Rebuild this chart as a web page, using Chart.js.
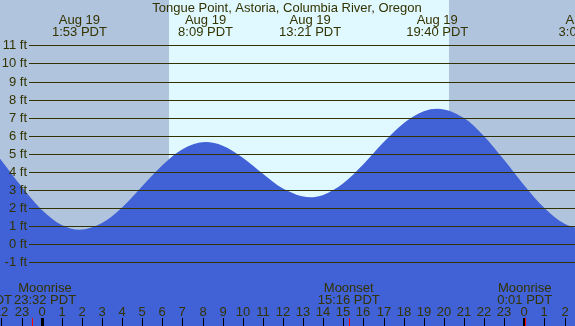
<!DOCTYPE html>
<html>
<head>
<meta charset="utf-8">
<script src="https://cdn.jsdelivr.net/npm/chart.js@4/dist/chart.umd.min.js"></script>
<style>
  html, body { margin: 0; padding: 0; background: #fff; }
  #tide { display: block; }
</style>
</head>
<body>
<canvas id="tide" width="575" height="326"></canvas>
<script>
// hours since midnight Aug 19 (negative = Aug 18, >24 = Aug 20)
const tideHours = [-3, -2, -1, 0, 1, 1.88, 3, 4, 5, 6, 7, 8.15, 9, 10, 11, 12, 13.35, 14, 15, 16, 17, 18, 19, 19.67, 21, 22, 23, 24, 25, 26, 27.07];
const tideFeet  = [5.95, 4.64, 3.19, 1.91, 1.06, 0.80, 1.17, 2.04, 3.21, 4.37, 5.26, 5.65, 5.45, 4.79, 3.90, 3.08, 2.60, 2.73, 3.38, 4.43, 5.64, 6.70, 7.36, 7.50, 6.98, 5.98, 4.66, 3.25, 2.00, 1.13, 0.80];

const extremeHours = [1.88, 8.15, 13.35, 19.67, 27.07];
const extremeDates = ['Aug 19', 'Aug 19', 'Aug 19', 'Aug 19', 'Aug 20'];
const extremeTimes = ['1:53 PDT', '8:09 PDT', '13:21 PDT', '19:40 PDT', '3:04 PDT'];

const moonHours  = [-0.47, 15.27, 24.02];
const moonEvents = ['Moonrise', 'Moonset', 'Moonrise'];
const moonTimes  = ['23:32 PDT', '15:16 PDT', '0:01 PDT'];

const sunrise = 6.33, sunset = 20.25;
const feetTicks = [-1, 0, 1, 2, 3, 4, 5, 6, 7, 8, 9, 10, 11];
const hourTicks = [-2, -1, 0, 1, 2, 3, 4, 5, 6, 7, 8, 9, 10, 11, 12, 13, 14, 15, 16, 17, 18, 19, 20, 21, 22, 23, 24, 25, 26];

const INK = '#333300';
const FONT = '13px "Liberation Sans", Arial, sans-serif';

const backdrop = {
    id: 'backdrop',
    beforeDatasetsDraw(chart) {
        const { ctx, chartArea: a, scales: { x } } = chart;
        ctx.save();
        ctx.fillStyle = '#b0c4de';
        ctx.fillRect(a.left, a.top, a.width, a.height);
        ctx.fillStyle = '#e0f8ff';
        const x1 = Math.round(x.getPixelForValue(sunrise));
        const x2 = Math.round(x.getPixelForValue(sunset));
        ctx.fillRect(x1, a.top, x2 - x1, a.height);
        ctx.restore();
    }
};

const overlay = {
    id: 'overlay',
    afterDatasetsDraw(chart) {
        const { ctx, chartArea: a, scales: { x, y } } = chart;
        ctx.save();
        ctx.font = FONT;
        ctx.fillStyle = INK;
        ctx.strokeStyle = INK;
        ctx.lineWidth = 1;
        ctx.textBaseline = 'middle';

        // feet grid + labels
        feetTicks.forEach(f => {
            const py = Math.round(y.getPixelForValue(f)) + 0.5;
            ctx.beginPath();
            ctx.moveTo(29, py);
            ctx.lineTo(a.right, py);
            ctx.stroke();
            ctx.textAlign = 'right';
            ctx.fillText(f + ' ft', 27, py);
        });

        // title and high/low labels
        ctx.textAlign = 'center';
        ctx.fillText('Tongue Point, Astoria, Columbia River, Oregon', 287, 8);
        extremeHours.forEach((h, i) => {
            const px = x.getPixelForValue(h);
            ctx.fillText(extremeDates[i], px, 20);
            ctx.fillText(extremeTimes[i], px, 32);
        });

        // moon labels
        ctx.textAlign = 'right';
        ctx.fillText('PDT', 12, 300);
        ctx.textAlign = 'center';
        moonHours.forEach((h, i) => {
            const px = Math.max(x.getPixelForValue(h), 45);
            ctx.fillText(moonEvents[i], px, 288);
            ctx.fillText(moonTimes[i], px, 300);
        });

        // hour labels and ticks
        hourTicks.forEach(h => {
            const px = Math.round(x.getPixelForValue(h));
            const label = ((h % 24) + 24) % 24;
            ctx.fillText(String(label), px, 312);
            ctx.fillStyle = '#000';
            if (label === 0) ctx.fillRect(px - 1, 318, 3, 8);
            else ctx.fillRect(px, 318, 1, 8);
            ctx.fillStyle = INK;
        });
        ctx.fillStyle = '#ff0000';
        moonHours.forEach(h => {
            const px = Math.round(x.getPixelForValue(h));
            ctx.fillRect(px, 318, 1, 8);
        });
        ctx.restore();
    }
};

new Chart(document.getElementById('tide'), {
    type: 'line',
    data: {
        datasets: [{
            data: tideHours.map((h, i) => ({ x: h, y: tideFeet[i] })),
            fill: 'start',
            backgroundColor: '#4161d6',
            borderWidth: 0,
            pointRadius: 0,
            cubicInterpolationMode: 'monotone'
        }]
    },
    options: {
        responsive: false,
        animation: false,
        layout: { padding: 0 },
        plugins: { legend: { display: false }, tooltip: { enabled: false } },
        scales: {
            x: { type: 'linear', display: false, min: -2.07, max: 26.52 },
            y: { display: false, min: -4.52, max: 13.51 }
        }
    },
    plugins: [backdrop, overlay]
});
</script>
</body>
</html>
